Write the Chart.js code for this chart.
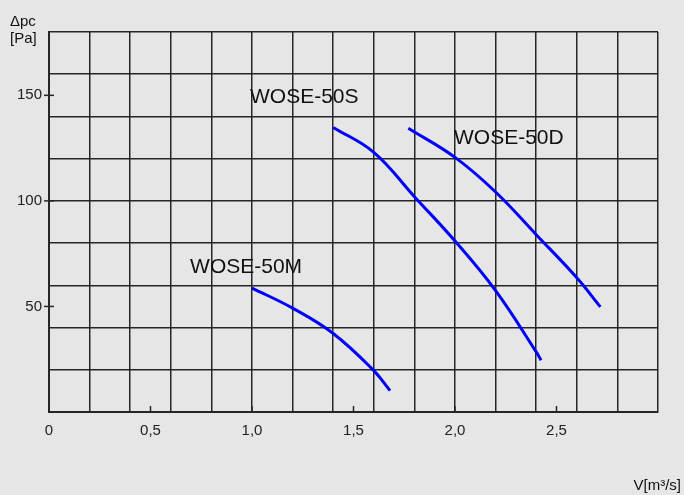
<!DOCTYPE html>
<html>
<head>
<meta charset="utf-8">
<script src="https://cdn.jsdelivr.net/npm/chart.js@4"></script>
<style>
  html, body { margin: 0; padding: 0; background: #e6e6e6; }
  #wrap { width: 684px; height: 495px; }
</style>
</head>
<body>
<div id="wrap"><canvas id="fanChart"></canvas></div>
<script>
// curve points: [V m3/s, dpc Pa]
const wose50M = [[1.0, 58.7], [1.2, 49.2], [1.4, 37.2], [1.6, 19.6], [1.68, 10.1]];
const wose50S = [[1.4, 134.8], [1.6, 123.0], [1.8, 102.0], [2.0, 81.0], [2.2, 57.5], [2.4, 28.5], [2.424, 24.5]];
const wose50D = [[1.77, 134.4], [2.0, 120.6], [2.2, 104.2], [2.4, 84.0], [2.6, 63.6], [2.716, 49.8]];

const seriesNames = ['WOSE-50M', 'WOSE-50S', 'WOSE-50D'];
// where each name sits (data coords, text left / middle)
const nameAnchors = [[0.695, 68.7], [0.99, 149], [1.995, 129.8]];

const xLabelTicks = [0, 0.5, 1.0, 1.5, 2.0, 2.5];
const yLabelTicks = [50, 100, 150];

function toPoints(arr) {
    return arr.map(p => ({ x: p[0], y: p[1] }));
}

function fmt(v) {
    return v === 0 ? '0' : v.toFixed(1).replace('.', ',');
}

const gridCol = '#262626';

const extras = {
    id: 'extras',
    afterDraw(chart) {
        const ctx = chart.ctx;
        const xs = chart.scales.x, ys = chart.scales.y;
        const a = chart.chartArea;
        ctx.save();
        ctx.strokeStyle = gridCol;
        ctx.lineWidth = 1.5;
        // little tick marks inside the bottom axis
        xLabelTicks.forEach(v => {
            const px = xs.getPixelForValue(v);
            ctx.beginPath();
            ctx.moveTo(px, a.bottom);
            ctx.lineTo(px, a.bottom - 6);
            ctx.stroke();
        });
        // y tick marks crossing the left axis
        yLabelTicks.forEach(v => {
            const py = ys.getPixelForValue(v);
            ctx.beginPath();
            ctx.moveTo(a.left - 5, py);
            ctx.lineTo(a.left + 5, py);
            ctx.stroke();
        });
        // series names
        ctx.fillStyle = '#111';
        ctx.font = '21px "Liberation Sans", Arial, sans-serif';
        ctx.textBaseline = 'middle';
        ctx.textAlign = 'left';
        seriesNames.forEach((n, i) => {
            ctx.fillText(n, xs.getPixelForValue(nameAnchors[i][0]), ys.getPixelForValue(nameAnchors[i][1]));
        });
        // axis titles
        ctx.font = '15px "Liberation Sans", Arial, sans-serif';
        ctx.textBaseline = 'alphabetic';
        ctx.fillText('\u0394pc', 10, 26);
        ctx.fillText('[Pa]', 10, 43);
        ctx.textAlign = 'right';
        ctx.fillText('V[m\u00b3/s]', 681, 490);
        ctx.restore();
    }
};

const config = {
    type: 'line',
    data: {
        datasets: [wose50M, wose50S, wose50D].map((d, i) => ({
            label: seriesNames[i],
            data: toPoints(d),
            borderColor: '#0000ff',
            borderWidth: 3,
            pointRadius: 0,
            fill: false,
            tension: 0.4
        }))
    },
    options: {
        responsive: true,
        maintainAspectRatio: false,
        animation: false,
        layout: { padding: { left: 0, right: 26, top: 32, bottom: 0 } },
        plugins: {
            legend: { display: false },
            tooltip: { enabled: false }
        },
        scales: {
            x: {
                type: 'linear',
                min: 0,
                max: 3,
                afterFit: s => { s.height = 83; },
                border: { display: true, color: gridCol, width: 2 },
                grid: {
                    drawTicks: false,
                    lineWidth: 1.5,
                    color: c => (Math.round(c.tick.value * 10) % 2 === 0 ? gridCol : 'rgba(0,0,0,0)')
                },
                ticks: {
                    stepSize: 0.1,
                    autoSkip: false,
                    maxRotation: 0,
                    padding: 10,
                    color: '#222',
                    font: { family: '"Liberation Sans", Arial, sans-serif', size: 15 },
                    callback: v => {
                        const t = Math.round(v * 10);
                        return (t % 5 === 0 && t < 30) ? fmt(t / 10) : '';
                    }
                }
            },
            y: {
                type: 'linear',
                min: 0,
                max: 180,
                afterFit: s => { s.width = 49; },
                border: { display: true, color: gridCol, width: 2 },
                grid: {
                    drawTicks: false,
                    lineWidth: 1.5,
                    color: c => (c.tick.value % 20 === 0 ? gridCol : 'rgba(0,0,0,0)')
                },
                ticks: {
                    stepSize: 10,
                    autoSkip: false,
                    padding: 7,
                    color: '#222',
                    font: { family: '"Liberation Sans", Arial, sans-serif', size: 15 },
                    callback: v => (yLabelTicks.includes(v) ? String(v) : '')
                }
            }
        }
    },
    plugins: [extras]
};

window.onload = () => {
    new Chart(document.getElementById('fanChart').getContext('2d'), config);
};
</script>
</body>
</html>
